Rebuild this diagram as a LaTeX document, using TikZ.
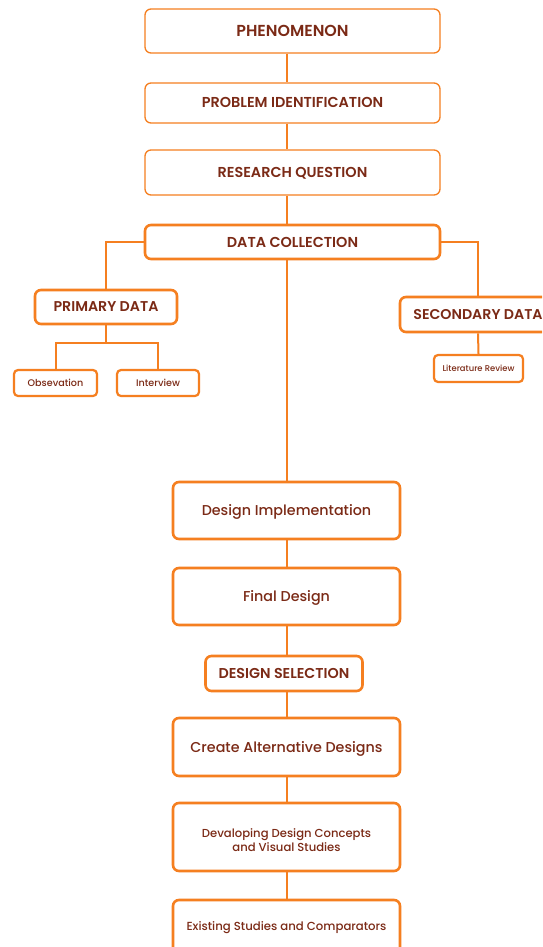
\documentclass[tikz,border=0pt]{standalone}
\usepackage{fontspec}
\setmainfont{Poppins}
\newfontfamily\popsb{Poppins SemiBold}
\newfontfamily\popmd{Poppins Medium}
\definecolor{orng}{HTML}{F57F20}
\definecolor{brwn}{HTML}{7B2A16}
\begin{document}
\begin{tikzpicture}[x=1pt,y=-1pt,
  thinbox/.style={draw=orng,line width=1.3pt,rounded corners=6pt,fill=white,text=brwn,inner sep=0pt,align=center},
  thickbox/.style={draw=orng,line width=2.6pt,rounded corners=6pt,fill=white,text=brwn,inner sep=0pt,align=center},
  caph/.style={text height=#1,text depth=0pt},
  link/.style={draw=orng,line width=2pt}]
\clip (0,0) rectangle (542,947);
\fill[white] (0,0) rectangle (542,947);
\coordinate (spine) at (287,0);
% top chain
\node[thinbox,caph=11.1pt,minimum width=295pt,minimum height=44pt,font=\popsb\fontsize{15.9}{18}\selectfont] (phen) at (292.5,31) {PHENOMENON};
\node[thinbox,caph=10pt,minimum width=295pt,minimum height=40pt,font=\popsb\fontsize{14.4}{16}\selectfont] (prob) at (292.5,103) {PROBLEM IDENTIFICATION};
\node[thinbox,caph=10pt,minimum width=295pt,minimum height=45pt,font=\popsb\fontsize{14.4}{16}\selectfont] (rq) at (292.5,172.5) {RESEARCH QUESTION};
\node[thickbox,caph=10pt,minimum width=295pt,minimum height=34pt,font=\popsb\fontsize{14.4}{16}\selectfont] (dc) at (292.5,242) {DATA COLLECTION};
% branches
\node[thickbox,caph=9.9pt,minimum width=142pt,minimum height=34pt,font=\popsb\fontsize{14.2}{16}\selectfont] (prim) at (106,307) {PRIMARY DATA};
\node[thickbox,caph=9.9pt,minimum width=156pt,minimum height=35pt,font=\popsb\fontsize{14.2}{16}\selectfont] (sec) at (478,314.5) {SECONDARY DATA};
\node[thickbox,caph=6.7pt,line width=2.2pt,rounded corners=4pt,minimum width=83pt,minimum height=26pt,font=\popmd\fontsize{9.6}{11}\selectfont] (obs) at (55.5,383) {Obsevation};
\node[thickbox,caph=6.7pt,line width=2.2pt,rounded corners=4pt,minimum width=82pt,minimum height=26pt,font=\popmd\fontsize{9.6}{11}\selectfont] (intv) at (158,383) {Interview};
\node[thickbox,caph=5.9pt,line width=2.2pt,rounded corners=4pt,minimum width=89pt,minimum height=27pt,font=\popmd\fontsize{8.4}{10}\selectfont] (lit) at (478.5,368.5) {Literature Review};
\coordinate (pj) at (106,343);
% lower chain
\node[thickbox,caph=10pt,minimum width=227pt,minimum height=57pt,font=\popmd\fontsize{14.3}{16}\selectfont] (dimp) at (286.5,510.5) {Design Implementation};
\node[thickbox,caph=10pt,minimum width=227pt,minimum height=57pt,font=\popmd\fontsize{14.3}{16}\selectfont] (fin) at (286.5,596.5) {Final Design};
\node[thickbox,caph=10pt,minimum width=157pt,minimum height=35pt,font=\popsb\fontsize{14.3}{16}\selectfont] (dsel) at (284,673.5) {DESIGN SELECTION};
\node[thickbox,caph=10pt,minimum width=227pt,minimum height=58pt,font=\popmd\fontsize{14.3}{16}\selectfont] (alt) at (286.5,747) {Create Alternative Designs};
\node[thickbox,text height=0pt,text depth=0pt,minimum width=227pt,minimum height=68pt,font=\popmd\fontsize{11.6}{14}\selectfont] (dev) at (286.5,837) {\raisebox{-8pt}[0pt][0pt]{\begin{tabular}{@{}c@{}}Devaloping Design Concepts\\and Visual Studies\end{tabular}}};
\node[thickbox,caph=8.2pt,text depth=4pt,minimum width=227pt,minimum height=57pt,font=\popmd\fontsize{11.7}{14}\selectfont] (exi) at (286.5,928.5) {Existing Studies and Comparators};
% connectors
\draw[link] (phen.south -| spine) -- (prob.north -| spine);
\draw[link] (prob.south -| spine) -- (rq.north -| spine);
\draw[link] (rq.south -| spine) -- (dc.north -| spine);
\draw[link] (dc.south -| spine) -- (dimp.north -| spine);
\draw[link] (dimp.south -| spine) -- (fin.north -| spine);
\draw[link] (fin.south -| spine) -- (dsel.north -| spine);
\draw[link] (dsel.south -| spine) -- (alt.north -| spine);
\draw[link] (alt.south -| spine) -- (dev.north -| spine);
\draw[link] (dev.south -| spine) -- (exi.north -| spine);
\draw[link] (dc.west) -| (prim.north);
\draw[link] (dc.east) -| (sec.north);
\draw[link] (prim.south) -- (pj);
\draw[link] (obs.north) |- (pj) -| (intv.north);
\draw[link] (sec.south) -- (lit.north);
\end{tikzpicture}
\end{document}
